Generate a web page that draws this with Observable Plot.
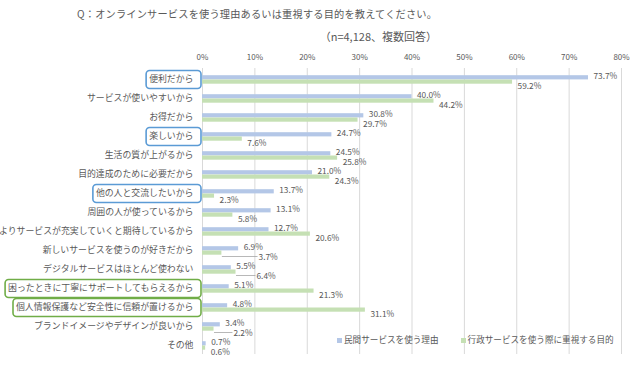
<!DOCTYPE html>
<html><head><meta charset="utf-8">
<script src="https://cdn.jsdelivr.net/npm/d3@7"></script>
<script src="https://cdn.jsdelivr.net/npm/@observablehq/plot@0.6"></script>
<style>
body{margin:0;background:#fff;}
#wrap{position:relative;width:640px;height:367px;font-family:"Noto Sans CJK JP",sans-serif;color:#595959;overflow:hidden;}
#chart{position:absolute;left:0;top:0;}
#title{position:absolute;left:77px;top:6px;font-size:10.2px;letter-spacing:0.2px;white-space:nowrap;}
#sub{position:absolute;right:203px;top:28px;font-size:11px;white-space:nowrap;}
#legend{position:absolute;left:337px;top:333px;font-size:8.6px;white-space:nowrap;display:flex;gap:22px;align-items:center;}
#legend span.sw{display:inline-block;width:5px;height:5px;margin-right:2px;vertical-align:middle;}
</style></head><body>
<div id="wrap">
<div id="chart"></div>
<div id="title">Q：オンラインサービスを使う理由あるいは重視する目的を教えてください。</div>
<div id="sub">（n=4,128、複数回答）</div>
<div id="legend"></div>
</div>
<script>
const categories = [
  "便利だから",
  "サービスが使いやすいから",
  "お得だから",
  "楽しいから",
  "生活の質が上がるから",
  "目的達成のために必要だから",
  "他の人と交流したいから",
  "周囲の人が使っているから",
  "よりサービスが充実していくと期待しているから",
  "新しいサービスを使うのが好きだから",
  "デジタルサービスはほとんど使わない",
  "困ったときに丁寧にサポートしてもらえるから",
  "個人情報保護など安全性に信頼が置けるから",
  "ブランドイメージやデザインが良いから",
  "その他"
];
const privateValues = [73.7, 40.0, 30.8, 24.7, 24.5, 21.0, 13.7, 13.1, 12.7, 6.9, 5.5, 5.1, 4.8, 3.4, 0.7];
const publicValues  = [59.2, 44.2, 29.7, 7.6, 25.8, 24.3, 2.3, 5.8, 20.6, 3.7, 6.4, 21.3, 31.1, 2.2, 0.6];
const seriesNames = ["民間サービスを使う理由", "行政サービスを使う際に重視する目的"];
const seriesColors = ["#b4c7e7", "#c5e0b4"];
const xTicks = [0, 10, 20, 30, 40, 50, 60, 70, 80];
const highlightBlue = ["便利だから", "楽しいから", "他の人と交流したいから"];
const highlightGreen = ["困ったときに丁寧にサポートしてもらえるから", "個人情報保護など安全性に信頼が置けるから"];

const textColor = "#595959";
const W = 640, H = 367, ML = 202, MR = 19, MT = 68, MB = 13;
const pxPerUnit = (W - ML - MR) / 80;
const labelFont = 8.3;
const fmt = v => v.toFixed(1) + "%";
const labelWidth = s => s.length * labelFont * 0.58;   // approximate rendered width in px

// label placement: blue label just right of its bar; green label right of its bar,
// pushed further right if it would collide with the next row's blue label.
const priv = categories.map((c, i) => ({cat: c, v: privateValues[i], lx: privateValues[i] + 5 / pxPerUnit}));
const pub = categories.map((c, i) => {
  const v = publicValues[i];
  let startPx = v * pxPerUnit + 5;
  if (i + 1 < categories.length) {
    const nb = privateValues[i + 1];
    const nbStart = nb * pxPerUnit + 5;
    const nbEnd = nbStart + labelWidth(fmt(nb));
    const myEnd = startPx + labelWidth(fmt(v));
    if (myEnd > nbStart - 1 && startPx < nbEnd + 1) startPx = Math.max(startPx, nbEnd + 3);
  }
  return {cat: c, v, lx: startPx / pxPerUnit};
});

const chart = Plot.plot({
  width: W,
  height: H,
  marginTop: MT,
  marginBottom: MB,
  marginLeft: ML,
  marginRight: MR,
  style: {fontFamily: '"Noto Sans CJK JP", sans-serif', color: textColor, background: "white"},
  x: {domain: [0, 80]},
  y: {domain: categories, padding: 0},
  marks: [
    Plot.gridX(xTicks, {stroke: "#d9d9d9", strokeOpacity: 1, strokeWidth: 1}),
    Plot.axisX({anchor: "top", ticks: xTicks, tickFormat: d => d + "%", tickSize: 0, tickPadding: 9, fontSize: 8, fill: textColor, label: null}),
    Plot.axisY({tickSize: 0, tickPadding: 9, fontSize: 8.9, fill: textColor, label: null}),
    Plot.barX(priv, {x: "v", y: "cat", fill: seriesColors[0], insetTop: 6.2, insetBottom: 8.6}),
    Plot.barX(pub, {x: "v", y: "cat", fill: seriesColors[1], insetTop: 10.5, insetBottom: 4.3}),
    // leader lines for green labels that were pushed away from their bar
    Plot.link(pub.filter(d => (d.lx - d.v) * pxPerUnit > 8), {x1: "v", x2: d => d.lx - 1 / pxPerUnit, y1: "cat", y2: "cat", dy: 6.5, stroke: "#a6a6a6", strokeWidth: 0.8}),
    Plot.text(priv, {x: "lx", y: "cat", text: d => fmt(d.v), dy: -3, textAnchor: "start", fontSize: labelFont, fill: textColor}),
    Plot.text(pub, {x: "lx", y: "cat", text: d => fmt(d.v), dy: 7.5, textAnchor: "start", fontSize: labelFont, fill: textColor})
  ]
});
document.getElementById("chart").append(chart);

// highlight boxes around selected category labels
const ys = chart.scale("y");
const svgRect = chart.getBoundingClientRect();
const ns = "http://www.w3.org/2000/svg";
chart.querySelectorAll('[aria-label="y-axis tick label"] text').forEach(t => {
  const label = t.textContent;
  let color = null;
  if (highlightBlue.includes(label)) color = "#5b9bd5";
  if (highlightGreen.includes(label)) color = "#70ad47";
  if (!color) return;
  const r = t.getBoundingClientRect();
  const x0 = Math.max(1, r.left - svgRect.left - 3);
  const x1 = 201;
  const y0 = ys.apply(label) + 1.5;
  const h = ys.bandwidth - 1;
  const rect = document.createElementNS(ns, "rect");
  rect.setAttribute("x", x0);
  rect.setAttribute("y", y0);
  rect.setAttribute("width", x1 - x0);
  rect.setAttribute("height", h);
  rect.setAttribute("rx", 3.5);
  rect.setAttribute("fill", "none");
  rect.setAttribute("stroke", color);
  rect.setAttribute("stroke-width", 1.6);
  chart.append(rect);
});

// legend
const lg = document.getElementById("legend");
seriesNames.forEach((n, i) => {
  const s = document.createElement("span");
  s.innerHTML = `<span class="sw" style="background:${seriesColors[i]}"></span>${n}`;
  lg.append(s);
});
</script>
</body></html>
